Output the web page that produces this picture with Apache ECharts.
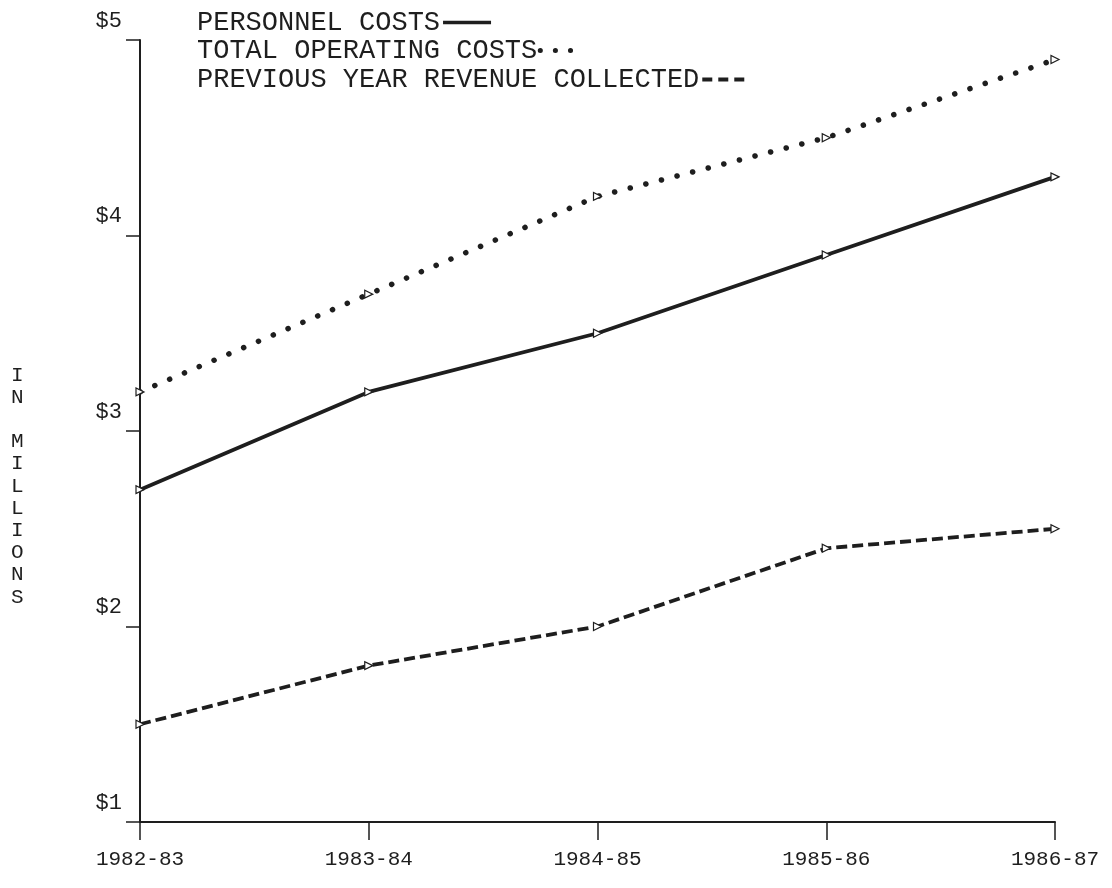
<!DOCTYPE html>
<html>
<head>
<meta charset="utf-8">
<script src="https://cdn.jsdelivr.net/npm/echarts@6/dist/echarts.min.js"></script>
<style>
html, body { margin: 0; padding: 0; background: #fff; }
#chart { width: 1112px; height: 888px; }
</style>
</head>
<body>
<div id="chart"></div>
<script>
// 年度
const years = ['1982-83', '1983-84', '1984-85', '1985-86', '1986-87']
// 单位：百万美元
const personnelCosts = [2.7, 3.2, 3.5, 3.9, 4.3]
const totalOperatingCosts = [3.2, 3.7, 4.2, 4.5, 4.9]
const previousYearRevenue = [1.5, 1.8, 2.0, 2.4, 2.5]
const yTicks = [1, 2, 3, 4, 5]

const ink = '#1e1e1e'
const font = 'Liberation Mono'

const chart = echarts.init(document.getElementById('chart'))

const marker = {
  symbol: 'triangle',
  symbolSize: 8,
  symbolRotate: -90,
  itemStyle: { color: '#fff', borderColor: ink, borderWidth: 1.2 }
}

// 图例：文字在前，线型在后
const legendItem = (name, top, width, lineStyle) => ({
  orient: 'vertical',
  left: 192,
  top: top,
  align: 'right',
  itemGap: 0,
  itemWidth: width,
  itemHeight: 14,
  selectedMode: false,
  itemStyle: { color: 'transparent', borderWidth: 0 },
  textStyle: { fontFamily: font, fontSize: 27, color: ink, padding: [0, -2, 0, 0] },
  data: [{ name: name, lineStyle: lineStyle }]
})

const option = {
  backgroundColor: '#ffffff',
  animation: false,
  grid: { left: 140, right: 57, top: 40, bottom: 66 },
  legend: [
    legendItem('PERSONNEL COSTS', 4, 48, { type: 'solid', width: 3.5 }),
    legendItem('TOTAL OPERATING COSTS', 32, 42, { type: [0.1, 15], width: 5, cap: 'round' }),
    legendItem('PREVIOUS YEAR REVENUE COLLECTED', 61, 48, { type: [10, 6], width: 4 })
  ],
  xAxis: {
    type: 'category',
    data: years,
    boundaryGap: false,
    axisLine: { lineStyle: { color: ink, width: 2 } },
    axisTick: { alignWithLabel: true, length: 18, lineStyle: { color: ink, width: 1.5 } },
    axisLabel: { fontFamily: font, fontSize: 21, color: ink, margin: 27 }
  },
  yAxis: {
    type: 'value',
    min: 1,
    max: 5,
    interval: 1,
    splitLine: { show: false },
    axisLine: { show: true, lineStyle: { color: ink, width: 2 } },
    axisTick: { show: true, length: 14, lineStyle: { color: ink, width: 1.5 } },
    axisLabel: {
      fontFamily: font,
      fontSize: 22,
      color: ink,
      margin: 18,
      verticalAlign: 'bottom',
      padding: [0, 0, 8, 0],
      formatter: v => (yTicks.includes(v) ? '$' + v : '')
    }
  },
  graphic: [{
    type: 'text',
    left: 11,
    top: 364,
    style: {
      text: 'I\nN\n\nM\nI\nL\nL\nI\nO\nN\nS',
      font: '21px "Liberation Mono"',
      fill: ink,
      lineHeight: 22.2
    }
  }],
  series: [
    {
      name: 'PERSONNEL COSTS',
      type: 'line',
      data: personnelCosts,
      ...marker,
      lineStyle: { color: ink, width: 3.8, type: 'solid' }
    },
    {
      name: 'TOTAL OPERATING COSTS',
      type: 'line',
      data: totalOperatingCosts,
      ...marker,
      lineStyle: { color: ink, width: 5.5, type: [0.1, 16], cap: 'round' }
    },
    {
      name: 'PREVIOUS YEAR REVENUE COLLECTED',
      type: 'line',
      data: previousYearRevenue,
      ...marker,
      lineStyle: { color: ink, width: 3.8, type: [11, 5] }
    }
  ]
}

chart.setOption(option)
</script>
</body>
</html>
